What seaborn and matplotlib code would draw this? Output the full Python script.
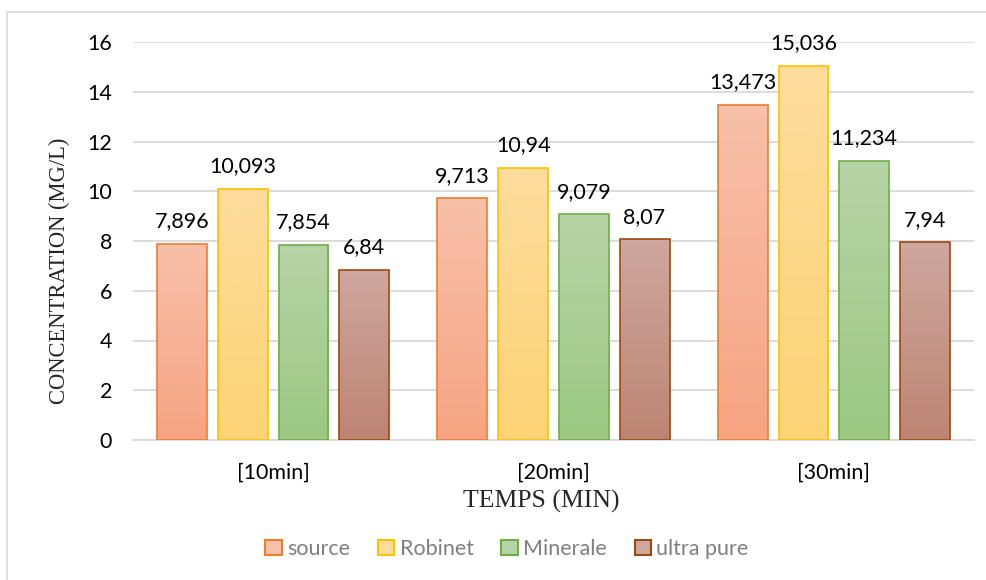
import numpy as np
import pandas as pd
import matplotlib
matplotlib.use("Agg")
import matplotlib.pyplot as plt
import seaborn as sns
from matplotlib.colors import LinearSegmentedColormap
from matplotlib.patches import Rectangle

# Data
categories = ["[10min]", "[20min]", "[30min]"]
series = ["source", "Robinet", "Minerale", "ultra pure"]
source = [7.896, 9.713, 13.473]
robinet = [10.093, 10.94, 15.036]
minerale = [7.854, 9.079, 11.234]
ultra_pure = [6.84, 8.07, 7.94]
y_ticks = [0, 2, 4, 6, 8, 10, 12, 14, 16]

df = pd.DataFrame({
    "temps": categories * 4,
    "serie": [s for s in series for _ in categories],
    "valeur": source + robinet + minerale + ultra_pure,
})

# Colours: edge, gradient top, gradient bottom
edges = ["#ED7D31", "#FFC000", "#70AD47", "#9E480E"]
tops = ["#F8C0A9", "#FDDC9C", "#B6D4A7", "#CEA79E"]
bottoms = ["#F6A482", "#FDD375", "#9CC881", "#BE8473"]

sns.set_theme(style="white")
plt.rcParams["font.family"] = ["Lato", "DejaVu Sans"]

fig = plt.figure(figsize=(9.87, 5.80), dpi=100)
ax = fig.add_axes([133 / 987, 1 - 440 / 580, (974 - 133) / 987, (440 - 42) / 580])

sns.barplot(data=df, x="temps", y="valeur", hue="serie", order=categories,
            hue_order=series, width=0.866, gap=0.177, palette=tops,
            legend=False, ax=ax, zorder=2)

ax.set_ylim(0, 16)
ax.set_xlim(-0.5, 2.5)
ax.set_yticks(y_ticks)
ax.yaxis.grid(True, color="#D9D9D9", linewidth=1.3, zorder=0)
ax.set_axisbelow(True)
for s in ["top", "right", "left"]:
    ax.spines[s].set_visible(False)
ax.spines["bottom"].set_color("#D9D9D9")
ax.spines["bottom"].set_linewidth(1.3)
ax.tick_params(axis="both", length=0, labelsize=15.5, colors="#000000")
ax.tick_params(axis="y", pad=15)
ax.tick_params(axis="x", pad=16)

# Vertical gradient fill for each bar, with data labels
for i, cont in enumerate(ax.containers):
    cmap = LinearSegmentedColormap.from_list(f"g{i}", [bottoms[i], tops[i]])
    for bar, val in zip(cont, [source, robinet, minerale, ultra_pure][i]):
        x, w, h = bar.get_x(), bar.get_width(), bar.get_height()
        bar.set_facecolor("none")
        bar.set_edgecolor(edges[i])
        bar.set_linewidth(1.2)
        bar.set_zorder(4)
        grad = np.linspace(0, 1, 256).reshape(-1, 1)
        im = ax.imshow(grad, cmap=cmap, origin="lower", aspect="auto",
                       extent=[x, x + w, 0, h], zorder=3)
        im.set_clip_path(bar)
        ax.annotate(f"{val}".replace(".", ","), (x + w / 2, h),
                    xytext=(0, 9), textcoords="offset points",
                    ha="center", va="bottom", fontsize=15.5, color="#000000")

ax.set_ylim(0, 16)
ax.set_xlim(-0.5, 2.5)
ax.set_xlabel("")
ax.set_ylabel("")

serif = ["Liberation Serif", "DejaVu Serif"]
fig.text(541 / 987, 1 - 501 / 580, "TEMPS (MIN)", ha="center", va="center",
         fontsize=18.5, family=serif)
fig.text(59 / 987, 1 - 271 / 580, "CONCENTRATION (MG/L)", ha="center",
         va="center", rotation=90, fontsize=16.3, family=serif)

# Legend
handles = [Rectangle((0, 0), 1, 1, facecolor=tops[i], edgecolor=edges[i],
                     linewidth=1.5) for i in range(4)]
leg = fig.legend(handles, series, loc="center", bbox_to_anchor=(507 / 987, 1 - 549 / 580),
                 ncol=4, frameon=False, fontsize=15.5, handlelength=0.75,
                 handleheight=0.75, handletextpad=0.25, columnspacing=1.3)
for t in leg.get_texts():
    t.set_color("#7F7F7F")

# Chart frame
fig.patches.append(Rectangle((7 / 987, -0.1), 2, 1 - 12 / 580 + 0.1,
                             transform=fig.transFigure, fill=False,
                             edgecolor="#D9D9D9", linewidth=1.2))

fig.savefig("out.png", dpi=100)
